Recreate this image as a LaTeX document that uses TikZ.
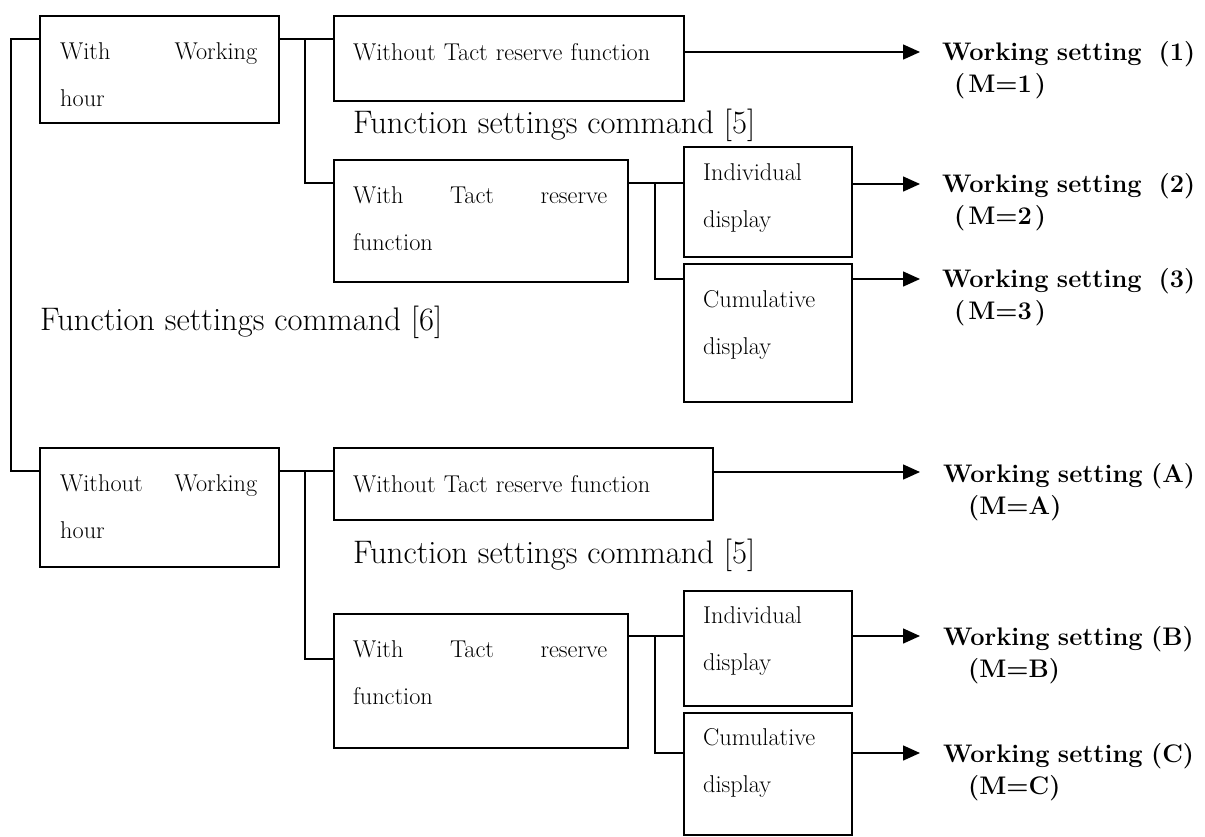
\documentclass[tikz,border=0pt]{standalone}
\usetikzlibrary{arrows.meta,calc}
\begin{document}
\begin{tikzpicture}[x=1pt,y=-1pt,
  box/.style={draw,line width=1.5pt,inner sep=0pt,anchor=north west},
  btxt/.style={anchor=base west,inner sep=0pt,align=left,font=\fontsize{24.3}{47}\selectfont},
  ftxt/.style={anchor=base west,inner sep=0pt,font=\fontsize{32.6}{38}\selectfont},
  lab/.style={anchor=base west,inner sep=0pt,align=left,text width=262pt,font=\bfseries\fontsize{25.4}{32}\selectfont},
  conn/.style={line width=1.5pt},
  arr/.style={line width=1.5pt,-{Triangle[length=17pt,width=15pt]}}]
\useasboundingbox (0,0) rectangle (1205,836);

% boxes
\node[box,minimum width=239pt,minimum height=107pt] (b1) at (39,15) {};
\node[box,minimum width=350pt,minimum height=85pt] (b2) at (333,15) {};
\node[box,minimum width=294pt,minimum height=122pt] (b3) at (333,159) {};
\node[box,minimum width=168pt,minimum height=110pt] (b4) at (683,146) {};
\node[box,minimum width=168pt,minimum height=138pt] (b5) at (683,263) {};
\node[box,minimum width=239pt,minimum height=119pt] (b6) at (39,447) {};
\node[box,minimum width=379pt,minimum height=72pt] (b7) at (333,447) {};
\node[box,minimum width=294pt,minimum height=134pt] (b8) at (333,613) {};
\node[box,minimum width=168pt,minimum height=115pt] (b9) at (683,590) {};
\node[box,minimum width=168pt,minimum height=122pt] (b10) at (683,712) {};

% box texts
\node[btxt,text width=197pt] (t1) at ($(b1.north west)+(21,44)$) {With\hfill Working\\hour};
\node[btxt,text width=320pt] (t2) at ($(b2.north west)+(20,45)$) {Without Tact reserve function};
\node[btxt,text width=254pt] (t3) at ($(b3.north west)+(20,44)$) {With\hfill Tact\hfill reserve\\function};
\node[btxt,text width=140pt] (t4) at ($(b4.north west)+(20,34)$) {Individual\\display};
\node[btxt,text width=140pt] (t5) at ($(b5.north west)+(20,44)$) {Cumulative\\display};
\node[btxt,text width=197pt] (t6) at ($(b6.north west)+(21,44)$) {Without\hfill Working\\hour};
\node[btxt,text width=340pt] (t7) at ($(b7.north west)+(20,45)$) {Without Tact reserve function};
\node[btxt,text width=254pt] (t8) at ($(b8.north west)+(20,44)$) {With\hfill Tact\hfill reserve\\function};
\node[btxt,text width=140pt] (t9) at ($(b9.north west)+(20,33)$) {Individual\\display};
\node[btxt,text width=140pt] (t10) at ($(b10.north west)+(20,33)$) {Cumulative\\display};

% command texts
\node[ftxt] (f1) at (353,133) {Function settings command [5]};
\node[ftxt] (f2) at (40,330) {Function settings command [6]};
\node[ftxt] (f3) at (353,563) {Function settings command [5]};

% result labels
\node[lab] (L1) at (942,60) {Working setting\hspace{17pt}(1)\\\hspace*{12pt}(\kern3pt M=1\kern3pt)};
\node[lab] (L2) at (942,192) {Working setting\hspace{17pt}(2)\\\hspace*{12pt}(\kern3pt M=2\kern3pt)};
\node[lab] (L3) at (942,287) {Working setting\hspace{17pt}(3)\\\hspace*{12pt}(\kern3pt M=3\kern3pt)};
\node[lab] (LA) at (943,482) {Working setting (A)\\\hspace*{25pt}(M=A)};
\node[lab] (LB) at (943,645) {Working setting (B)\\\hspace*{25pt}(M=B)};
\node[lab] (LC) at (943,762) {Working setting (C)\\\hspace*{25pt}(M=C)};

% junction coordinates
\coordinate (l1) at (11,39);
\coordinate (l2) at (11,471);
\coordinate (j1) at (305,39);
\coordinate (k1) at (305,183);
\coordinate (j2) at (655,183);
\coordinate (k2) at (655,279);
\coordinate (j3) at (305,471);
\coordinate (k3) at (305,659);
\coordinate (j4) at (655,636);
\coordinate (k4) at (655,753);

% arrow ends
\coordinate (e1) at (920,52);
\coordinate (e2) at (920,184);
\coordinate (e3) at (920,279);
\coordinate (eA) at (920,472);
\coordinate (eB) at (920,636);
\coordinate (eC) at (920,753);

% connectors
\draw[conn] (b1.west |- l1) -- (l1) -- (l2) -- (b6.west |- l2);
\draw[conn] (b1.east |- j1) -- (b2.west |- j1);
\draw[conn] (j1) -- (k1) -- (b3.west |- k1);
\draw[conn] (b3.east |- j2) -- (b4.west |- j2);
\draw[conn] (j2) -- (k2) -- (b5.west |- k2);
\draw[conn] (b6.east |- j3) -- (b7.west |- j3);
\draw[conn] (j3) -- (k3) -- (b8.west |- k3);
\draw[conn] (b8.east |- j4) -- (b9.west |- j4);
\draw[conn] (j4) -- (k4) -- (b10.west |- k4);

\draw[arr] (b2.east |- e1) -- (e1);
\draw[arr] (b4.east |- e2) -- (e2);
\draw[arr] (b5.east |- e3) -- (e3);
\draw[arr] (b7.east |- eA) -- (eA);
\draw[arr] (b9.east |- eB) -- (eB);
\draw[arr] (b10.east |- eC) -- (eC);
\end{tikzpicture}
\end{document}
